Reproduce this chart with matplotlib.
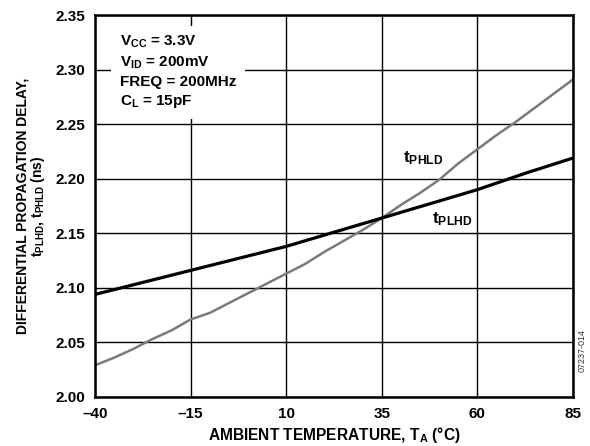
import numpy as np
import matplotlib
matplotlib.use('Agg')
import matplotlib.pyplot as plt

plt.rcParams['font.family'] = ['Liberation Sans', 'DejaVu Sans']
plt.rcParams['font.weight'] = 'bold'
plt.rcParams['mathtext.fontset'] = 'custom'
plt.rcParams['mathtext.rm'] = 'Liberation Sans:bold'
plt.rcParams['mathtext.it'] = 'Liberation Sans:bold'
plt.rcParams['mathtext.bf'] = 'Liberation Sans:bold'
plt.rcParams['mathtext.default'] = 'bf'

### data
temp_plhd = [-40, -27.5, -15, -2.5, 10, 22.5, 35, 47.5, 60, 72.5, 85]
t_plhd = [2.094, 2.105, 2.116, 2.127, 2.138, 2.151, 2.164, 2.177, 2.190, 2.205, 2.219]

temp_phld = [-40, -35, -30, -25, -20, -15, -10, -5, 0, 5, 10, 15, 20, 25,
             30, 35, 40, 45, 50, 55, 60, 65, 70, 75, 80, 85]
t_phld = [2.029, 2.036, 2.044, 2.053, 2.061, 2.071, 2.077, 2.086, 2.095,
          2.104, 2.113, 2.122, 2.133, 2.143, 2.153, 2.164, 2.176, 2.187,
          2.199, 2.214, 2.227, 2.240, 2.252, 2.265, 2.278, 2.291]

x_ticks = [-40, -15, 10, 35, 60, 85]
x_tick_labels = ['\u201340', '\u201315', '10', '35', '60', '85']
y_ticks = [2.00, 2.05, 2.10, 2.15, 2.20, 2.25, 2.30, 2.35]

conditions = ['$V_{CC}$ = 3.3V', '$V_{ID}$ = 200mV', 'FREQ = 200MHz', '$C_L$ = 15pF']

fig = plt.figure(figsize=(5.9, 4.46), dpi=100)
ax = fig.add_axes([0.161, 0.110, 0.810, 0.856])

ax.plot(temp_phld, t_phld, color='#7a7a7a', lw=1.8, zorder=3)
ax.plot(temp_plhd, t_plhd, color='black', lw=2.3, zorder=4)

ax.set_xlim(-40, 85)
ax.set_ylim(2.00, 2.35)
ax.set_xticks(x_ticks)
ax.set_xticklabels(x_tick_labels)
ax.set_yticks(y_ticks)
ax.set_yticklabels(['%.2f' % v for v in y_ticks])
ax.tick_params(length=0, labelsize=11, pad=7)
for lab in ax.get_xticklabels() + ax.get_yticklabels():
    lab.set_fontweight('bold')
ax.grid(True, color='black', lw=1.0, zorder=1)
ax.set_axisbelow(True)
for sp in ax.spines.values():
    sp.set_linewidth(1.8)
    sp.set_zorder(5)

# condition block on a white patch that hides the grid behind it
ax.text(-33.5, 2.333, '\n'.join(conditions), fontsize=11, fontweight='bold',
        va='top', ha='left', linespacing=1.37, zorder=2,
        bbox=dict(facecolor='white', edgecolor='none', pad=6))

ax.text(40.5, 2.219, '$t_{PHLD}$', fontsize=12.5, ha='left', va='center', zorder=6)
ax.text(48.1, 2.163, '$t_{PLHD}$', fontsize=12.5, ha='left', va='center', zorder=6)

ax.set_xlabel('AMBIENT TEMPERATURE, $T_A$ (\u00b0C)', fontsize=11.2, fontweight='bold', labelpad=3)
ax.set_ylabel('DIFFERENTIAL PROPAGATION DELAY,\n$t_{PLHD}$, $t_{PHLD}$ (ns)',
              fontsize=10, fontweight='bold', labelpad=6, linespacing=1.0)

fig.text(0.987, 0.165, '07237-014', rotation=90, fontsize=6.5, fontweight='normal',
         color='#333333', ha='center', va='bottom')

fig.savefig('out.png', dpi=100)
